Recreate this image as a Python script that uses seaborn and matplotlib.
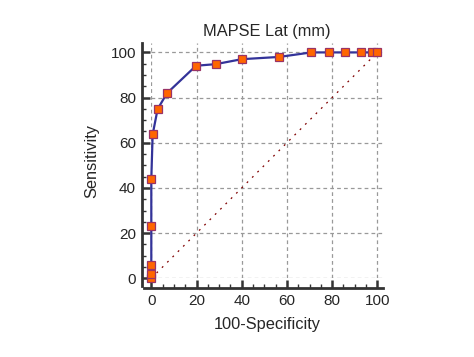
import seaborn as sns
import matplotlib.pyplot as plt
from matplotlib.ticker import MultipleLocator
import pandas as pd

# ROC points
fpr = [0, 0, 0, 0, 0, 0.6, 2.8, 6.9, 19.8, 28.5, 40, 56.6, 70.8, 78.8, 85.7, 92.6, 97.6, 100]
sens = [0, 1.8, 5.9, 23.2, 44, 63.7, 74.9, 81.9, 94.1, 94.8, 97, 98, 100, 100, 100, 100, 100, 100]
diag = [0, 100]
xticks = [0, 20, 40, 60, 80, 100]
yticks = [0, 20, 40, 60, 80, 100]

roc = pd.DataFrame({"fpr": fpr, "sens": sens})

sns.set_style("white")
plt.rcParams['font.family'] = ['Liberation Sans', 'DejaVu Sans']

fig = plt.figure(figsize=(4.74, 3.57), dpi=100)
ax = fig.add_axes([0.3192, 0.2205, 0.4888, 0.658])

# chance line
sns.lineplot(x=diag, y=diag, ax=ax, color="#800000", linewidth=0.9,
             linestyle=(0, (1.5, 4.5)), estimator=None, sort=False)
sns.lineplot(data=roc, x="fpr", y="sens", ax=ax, color="#333399", linewidth=1.6,
             marker="s", markersize=6, markerfacecolor="#ff6600",
             markeredgecolor="#993366", markeredgewidth=0.9,
             estimator=None, sort=False)
for ln in ax.lines:
    ln.set_clip_on(False)

ax.set_xlim(0, 102.5)
ax.set_ylim(0, 104)
ax.set_xticks(xticks)
ax.set_yticks(yticks)
ax.xaxis.set_minor_locator(MultipleLocator(5))
ax.yaxis.set_minor_locator(MultipleLocator(5))
ax.grid(True, which="major", color="#999999", linestyle=(0, (3, 2.5)), linewidth=0.9)

for side in ["top", "right"]:
    ax.spines[side].set_visible(False)
for side in ["left", "bottom"]:
    ax.spines[side].set_position(("outward", 7))
    ax.spines[side].set_linewidth(2)
    ax.spines[side].set_color("#333333")
ax.spines["left"].set_bounds(-3.2, 104)
ax.spines["bottom"].set_bounds(-3.1, 102.5)

ax.tick_params(which="major", direction="in", length=6, width=1.8, color="#333333",
               labelsize=11, pad=4, bottom=True, left=True)
ax.tick_params(which="minor", direction="in", length=3, width=1, color="#333333",
               bottom=True, left=True)

ax.set_title("MAPSE Lat (mm)", fontsize=11.8, pad=5)
ax.set_xlabel("100-Specificity", fontsize=11.8, labelpad=7)
ax.set_ylabel("Sensitivity", fontsize=11.8, labelpad=8)

fig.savefig("out.png", dpi=100)
